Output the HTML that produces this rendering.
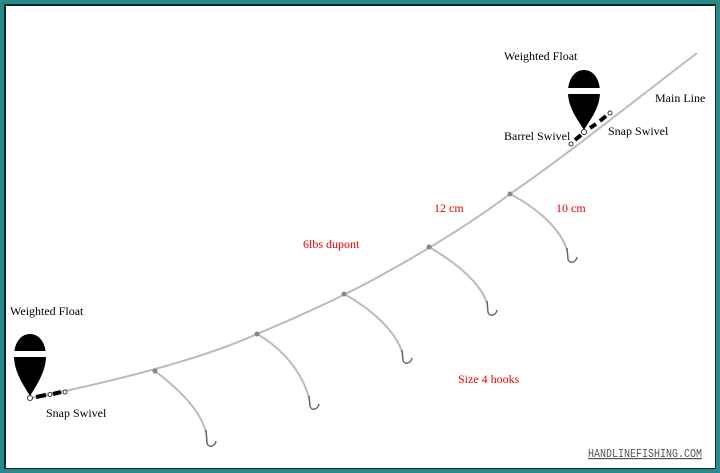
<!DOCTYPE html>
<html><head><style>
body{margin:0;width:720px;height:473px;overflow:hidden;background:#2a8a8a}
svg{display:block}
text{font-family:"Liberation Serif",serif;font-size:12px}
</style></head><body>
<svg width="720" height="473" viewBox="0 0 720 473">
<rect x="0" y="0" width="720" height="473" fill="#2a8a8a"/>
<rect x="4" y="4" width="712" height="465" fill="#0d2a2a"/>
<rect x="6" y="6" width="709" height="462" fill="#fff"/>
<g fill="none" stroke="#bbb" stroke-width="2">
<path d="M32,398 C110,382 200,360 257,334 C300,316 340,298 380,276 C420,254 470,224 510,194 C560,160 620,112 697,53"/>
<path d="M155,371 C180,390 200,410 206,432"/>
<path d="M257,334 C285,350 303,375 309,398"/>
<path d="M344,294 C370,308 395,330 402,352"/>
<path d="M429,247 C455,262 480,282 487,303"/>
<path d="M510,194 C537,208 560,228 567,250"/>
</g>
<g fill="none" stroke="#666" stroke-width="1.5">
<path d="M206,430 L207,443 C208,448 215,447 216,441"/>
<path d="M309,396 L310,406 C311,411 318,410 319,404"/>
<path d="M402,350 L403,360 C404,365 411,364 412,358"/>
<path d="M487,301 L488,312 C489,317 496,316 497,310"/>
<path d="M567,248 L568,259 C569,264 576,263 577,257"/>
</g>
<g fill="#888"><circle cx="155" cy="371" r="2.5"/><circle cx="257" cy="334" r="2.5"/><circle cx="344" cy="294" r="2.5"/><circle cx="429" cy="247" r="2.5"/><circle cx="510" cy="194" r="2.5"/></g>
<path d="M30,334 C20,334 14,344 14,356 C14,372 24,386 30,396 C36,386 46,372 46,356 C46,344 40,334 30,334Z" fill="#000"/>
<rect x="14" y="351" width="32" height="6" fill="#fff"/>
<circle cx="30" cy="398" r="2.5" fill="#fff" stroke="#333"/>
<line x1="36" y1="397" x2="46" y2="395" stroke="#000" stroke-width="4"/>
<line x1="53" y1="394" x2="61" y2="392" stroke="#000" stroke-width="4"/>
<circle cx="50" cy="394.5" r="2" fill="#fff" stroke="#333"/>
<circle cx="65" cy="392" r="2" fill="#fff" stroke="#333"/>
<path d="M584,70 C574,70 568,80 568,92 C568,108 578,120 584,130 C590,120 600,108 600,92 C600,80 594,70 584,70Z" fill="#000"/>
<rect x="568" y="88" width="32" height="6" fill="#fff"/>
<circle cx="584" cy="132" r="2.5" fill="#fff" stroke="#333"/>
<line x1="575" y1="140" x2="581" y2="135" stroke="#000" stroke-width="4"/>
<circle cx="571" cy="144" r="2" fill="#fff" stroke="#333"/>
<line x1="590" y1="128" x2="596" y2="124" stroke="#000" stroke-width="4"/>
<line x1="600" y1="121" x2="606" y2="116" stroke="#000" stroke-width="4"/>
<circle cx="610" cy="113" r="2" fill="#fff" stroke="#333"/>
<text x="504" y="60">Weighted Float</text>
<text x="655" y="102">Main Line</text>
<text x="504" y="140">Barrel Swivel</text>
<text x="608" y="135">Snap Swivel</text>
<text x="10" y="315">Weighted Float</text>
<text x="46" y="417">Snap Swivel</text>
<g fill="#e00"><text x="434" y="212">12 cm</text><text x="556" y="212">10 cm</text><text x="303" y="248">6lbs dupont</text><text x="458" y="383">Size 4 hooks</text></g>
<text x="588" y="457" textLength="114" lengthAdjust="spacingAndGlyphs" font-size="11" fill="#555" text-decoration="underline" style="font-family:'Liberation Mono',monospace">HANDLINEFISHING.COM</text>
</svg>
</body></html>
